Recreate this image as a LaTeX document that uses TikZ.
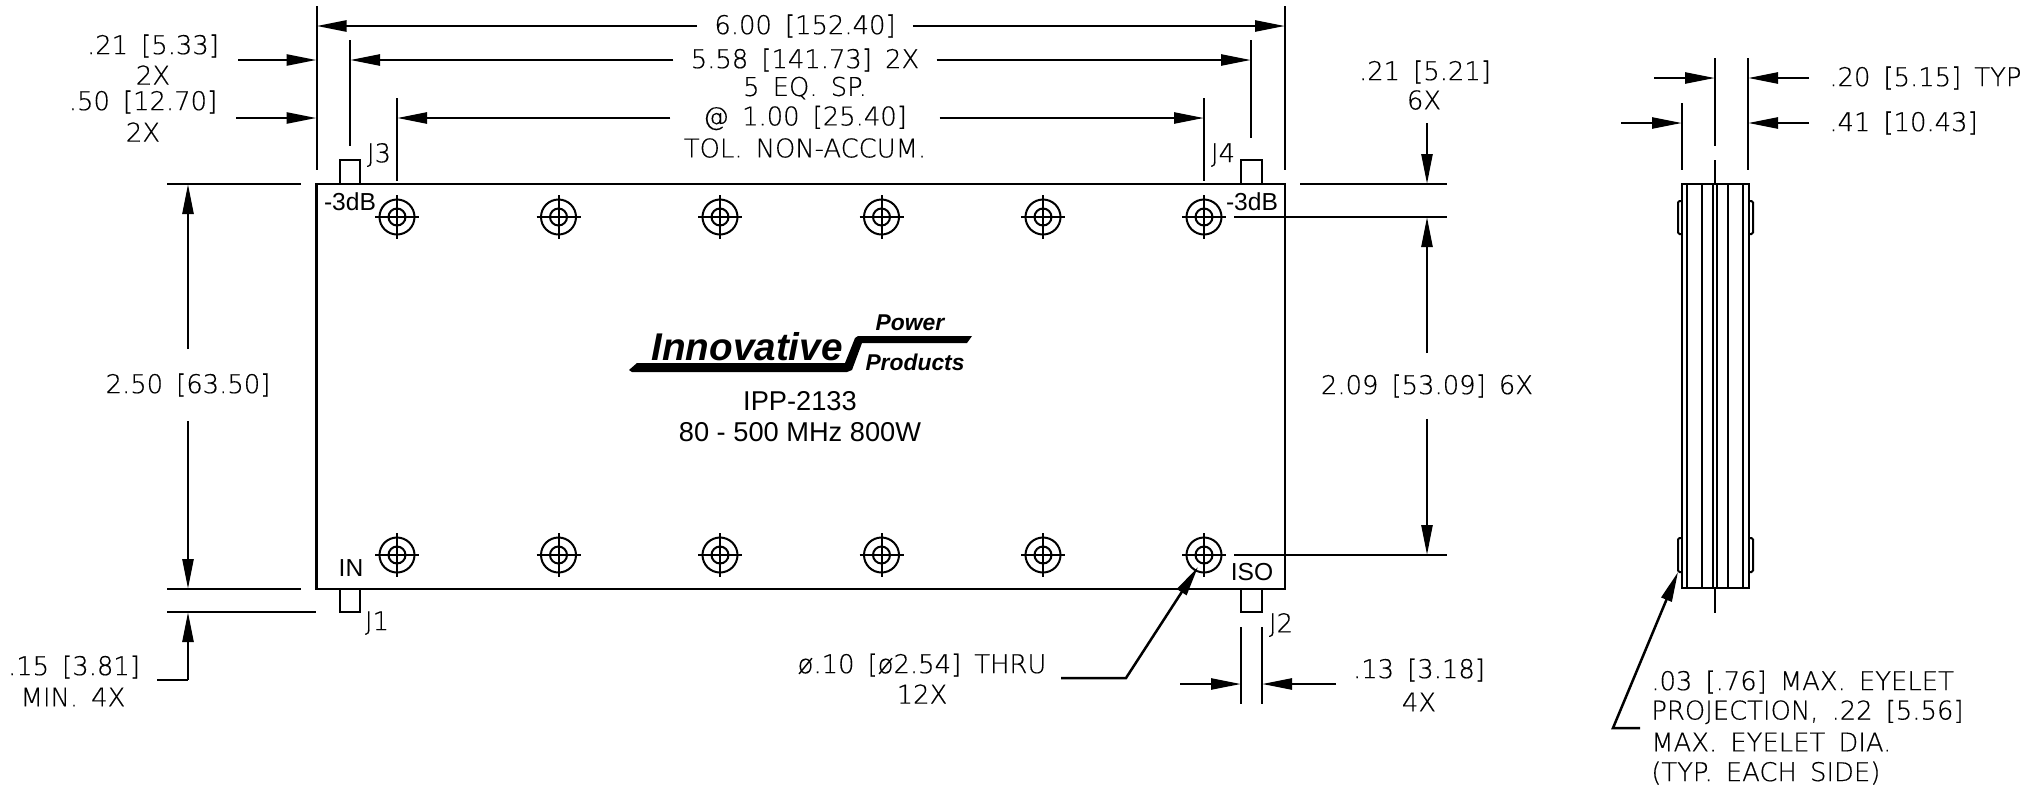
\documentclass[tikz,border=0pt]{standalone}
\usepackage{fontspec}
\usepackage{tikz}
\setmainfont{Liberation Sans}
\newfontfamily\cadfont[WordSpace=1.6,FakeBold=0.4]{DejaVu Sans ExtraLight}
\usetikzlibrary{arrows.meta,positioning,calc}
\tikzset{
    part/.style={line width=0.45mm},
    thinpart/.style={line width=0.4mm},
    extline/.style={line width=0.4mm},
    dimarrow/.style={line width=0.5mm,-{Triangle[length=6mm,width=2.2mm]}},
    dimtext/.style={font=\cadfont\fontsize{14.7}{16}\selectfont,inner xsep=3.4mm,inner ysep=0pt},
    marktext/.style={font=\fontsize{14}{16}\selectfont,inner sep=0pt},
    infotext/.style={font=\fontsize{15.5}{18}\selectfont,inner sep=0pt},
    logotext/.style={font=\bfseries\itshape,inner sep=0pt},
    pics/hole/.style={code={
        \draw[thinpart] (0,0) circle (3.5mm);
        \draw[thinpart] (0,0) circle (1.7mm);
        \draw[thinpart] (-22,0) -- (22,0);
        \draw[thinpart] (0,-22) -- (0,22);
    }}
}
\begin{document}
\begin{tikzpicture}[x=0.2mm,y=-0.2mm]
    \useasboundingbox (0,0) rectangle (2034,787);

    % Body
    \coordinate (bodyNW) at (316.5,184);
    \coordinate (bodySE) at (1285,589);
    \draw[part] (bodyNW) rectangle (bodySE);

    % Connectors
    \draw[part] (340,184) rectangle (360,160);
    \draw[part] (1241,184) rectangle (1262,160);
    \draw[part] (340,589) rectangle (360,612);
    \draw[part] (1241,589) rectangle (1262,612);
    \node[dimtext,inner xsep=0pt] (jthree) at (379,155) {J3};
    \node[dimtext,inner xsep=0pt] (jfour) at (1223,155) {J4};
    \node[dimtext,inner xsep=0pt] (jone) at (377,623) {J1};
    \node[dimtext,inner xsep=0pt] (jtwo) at (1281,625) {J2};
    \node[marktext] (coupleleft) at (350,202) {-3dB};
    \node[marktext] (coupleright) at (1252,202) {-3dB};
    \node[marktext] (inport) at (351,568) {IN};
    \node[marktext] (isoport) at (1252,572) {ISO};

    % Mounting holes
    \pic at (397,217) {hole};
    \pic at (558.5,217) {hole};
    \pic at (720,217) {hole};
    \pic at (881.5,217) {hole};
    \pic at (1043,217) {hole};
    \pic at (1204,217) {hole};
    \pic at (397,555) {hole};
    \pic at (558.5,555) {hole};
    \pic at (720,555) {hole};
    \pic at (881.5,555) {hole};
    \pic at (1043,555) {hole};
    \pic at (1204,555) {hole};

    % Logo
    \fill (629,370) -- (637,363) -- (845,363) -- (855,338) -- (858,336) -- (972,336)
        -- (967,343) -- (862,343) -- (852,370) -- (847,372) -- (632,372) -- cycle;
    \node[logotext,font=\bfseries\itshape\fontsize{22}{24}\selectfont] (brand) at (747,347) {Innovative};
    \node[logotext,font=\bfseries\itshape\fontsize{13}{15}\selectfont] (brandtop) at (910,323) {Power};
    \node[logotext,font=\bfseries\itshape\fontsize{13}{15}\selectfont] (brandlow) at (915,362) {Products};
    \node[infotext] (model) at (800,401) {IPP-2133};
    \node[infotext] (rating) at (800,432) {80 - 500 MHz 800W};

    % Top dimensions
    \coordinate (extA) at (316.5,6);
    \coordinate (extB) at (1285,6);
    \coordinate (extC) at (350,40);
    \coordinate (extD) at (1251,40);
    \coordinate (extE) at (397,98);
    \coordinate (extF) at (1204,98);
    \draw[extline] (extA) -- (316.5,170);
    \draw[extline] (extB) -- (1285,170);
    \draw[extline] (extC) -- (350,146);
    \draw[extline] (extD) -- (1251,138);
    \draw[extline] (extE) -- (397,181);
    \draw[extline] (extF) -- (1204,181);
    \node[dimtext] (overall) at (805,26) {6.00 [152.40]};
    \draw[dimarrow] (overall.west) -- (overall -| extA);
    \draw[dimarrow] (overall.east) -- (overall -| extB);
    \node[dimtext] (pitchouter) at (805,60) {5.58 [141.73] 2X};
    \draw[dimarrow] (pitchouter.west) -- (pitchouter -| extC);
    \draw[dimarrow] (pitchouter.east) -- (pitchouter -| extD);
    \node[dimtext] (pitchcount) at (805,88) {5 EQ. SP.};
    \node[dimtext,inner xsep=6.5mm] (pitch) at (805,118) {@ 1.00 [25.40]};
    \draw[dimarrow] (pitch.west) -- (pitch -| extE);
    \draw[dimarrow] (pitch.east) -- (pitch -| extF);
    \node[dimtext] (pitchtol) at (805,148) {TOL. NON-ACCUM.};

    % Offsets, upper left
    \node[dimtext,inner xsep=0pt] (offsetA) at (153,46) {.21 [5.33]};
    \node[dimtext,inner xsep=0pt] (offsetAn) at (153,75) {2X};
    \coordinate (tickA) at (238,60);
    \draw[dimarrow] (tickA) -- (tickA -| extA);
    \node[dimtext,inner xsep=0pt] (offsetB) at (143,102) {.50 [12.70]};
    \node[dimtext,inner xsep=0pt] (offsetBn) at (143,132) {2X};
    \coordinate (tickB) at (236,118);
    \draw[dimarrow] (tickB) -- (tickB -| extA);

    % Height, left
    \draw[extline] (167,184) -- (301,184);
    \draw[extline] (167,589) -- (301,589);
    \draw[extline] (167,612) -- (316,612);
    \node[dimtext,inner xsep=0pt,minimum height=14.2mm] (height) at (188,385) {2.50 [63.50]};
    \draw[dimarrow] (height.north) -- (188,184);
    \draw[dimarrow] (height.south) -- (188,589);
    \node[dimtext,inner xsep=0pt] (studlen) at (74,667) {.15 [3.81]};
    \node[dimtext,inner xsep=0pt] (studnote) at (73,697) {MIN. 4X};
    \coordinate (studbend) at (188,680);
    \draw[line width=0.5mm] (157,680) -- (studbend);
    \draw[dimarrow] (studbend) -- (188,612);

    % Hole spacing, right
    \draw[extline] (1300,184) -- (1447,184);
    \draw[extline] (1234,217) -- (1447,217);
    \draw[extline] (1234,555) -- (1447,555);
    \node[dimtext,inner xsep=0pt] (holeedge) at (1425,72) {.21 [5.21]};
    \node[dimtext,inner xsep=0pt] (holeedgen) at (1424,100) {6X};
    \coordinate (holetick) at (1427,123);
    \draw[dimarrow] (holetick) -- (1427,184);
    \node[dimtext,inner xsep=0pt,minimum height=13mm] (holespan) at (1427,386) {2.09 [53.09] 6X};
    \draw[dimarrow] (holespan.north) -- (1427,217);
    \draw[dimarrow] (holespan.south) -- (1427,555);

    % Connector width
    \draw[extline] (1241,627) -- (1241,704);
    \draw[extline] (1262,627) -- (1262,704);
    \coordinate (widthL) at (1180,684);
    \coordinate (widthR) at (1336,684);
    \draw[dimarrow] (widthL) -- (1241,684);
    \draw[dimarrow] (widthR) -- (1262,684);
    \node[dimtext,inner xsep=0pt] (widthlabel) at (1419,670) {.13 [3.18]};
    \node[dimtext,inner xsep=0pt] (widthnote) at (1419,702) {4X};

    % Hole callout
    \node[dimtext,inner xsep=0pt] (holedia) at (922,665) {ø.10 [ø2.54] THRU};
    \node[dimtext,inner xsep=0pt] (holedianote) at (922,694) {12X};
    \coordinate (calloutend) at (1061,678);
    \draw[dimarrow] (calloutend) -- (1126,678) -- (1198,567);

    % Side view
    \draw[part] (1682,184) rectangle (1749,588);
    \draw[part] (1687,184) -- (1687,588);
    \draw[part] (1702,184) -- (1702,588);
    \draw[thinpart] (1713,184) -- (1713,588);
    \draw[thinpart] (1717,184) -- (1717,588);
    \draw[part] (1728,184) -- (1728,588);
    \draw[part] (1743,184) -- (1743,588);
    \draw[part] (1715,160) -- (1715,184);
    \draw[part] (1715,588) -- (1715,613);
    \draw[thinpart,rounded corners=0.3mm] (1682,201) -- (1678,201) -- (1678,234) -- (1682,234);
    \draw[thinpart,rounded corners=0.3mm] (1749,201) -- (1753,201) -- (1753,234) -- (1749,234);
    \draw[thinpart,rounded corners=0.3mm] (1682,538) -- (1678,538) -- (1678,572) -- (1682,572);
    \draw[thinpart,rounded corners=0.3mm] (1749,538) -- (1753,538) -- (1753,572) -- (1749,572);

    % Side view dimensions
    \draw[extline] (1715,58) -- (1715,146);
    \draw[extline] (1748,58) -- (1748,170);
    \draw[extline] (1682,103) -- (1682,170);
    \node[dimtext,inner xsep=0pt,anchor=west] (thick) at (1829,78) {.20 [5.15] TYP};
    \node[dimtext,inner xsep=0pt,anchor=west] (width) at (1829,123) {.41 [10.43]};
    \coordinate (thickL) at (1654,78);
    \coordinate (thickR) at (1809,78);
    \coordinate (widthsideL) at (1621,123);
    \coordinate (widthsideR) at (1809,123);
    \draw[dimarrow] (thickL) -- (1715,78);
    \draw[dimarrow] (thickR) -- (1748,78);
    \draw[dimarrow] (widthsideL) -- (1682,123);
    \draw[dimarrow] (widthsideR) -- (1748,123);

    % Eyelet note
    \node[dimtext,inner xsep=0pt,anchor=west] (eyeA) at (1651,682) {.03 [.76] MAX. EYELET};
    \node[dimtext,inner xsep=0pt,anchor=west] (eyeB) at (1651,712) {PROJECTION, .22 [5.56]};
    \node[dimtext,inner xsep=0pt,anchor=west] (eyeC) at (1651,742) {MAX. EYELET DIA.};
    \node[dimtext,inner xsep=0pt,anchor=west] (eyeD) at (1651,773) {(TYP. EACH SIDE)};
    \coordinate (eyeend) at (1640,728);
    \draw[dimarrow] (eyeend) -- (1613,728) -- (1678,572);
\end{tikzpicture}
\end{document}
